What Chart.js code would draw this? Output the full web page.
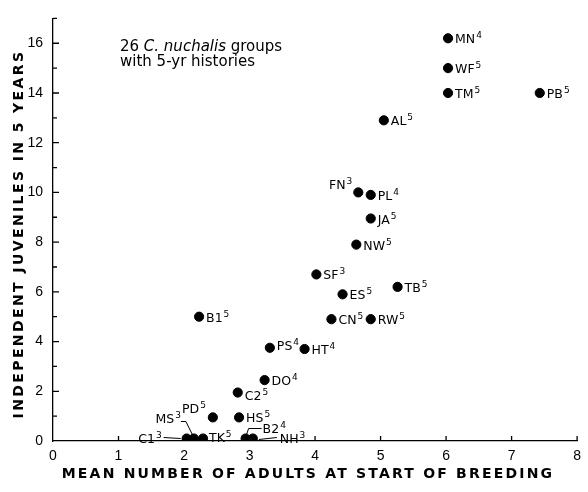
<!DOCTYPE html>
<html lang="en">
<head>
    <meta charset="UTF-8">
    <title>Juveniles vs adults</title>
    <script src="https://cdn.jsdelivr.net/npm/chart.js"></script>
    <style>
        html, body { margin: 0; padding: 0; background: #fff; }
        #wrap { width: 588px; height: 492px; }
    </style>
</head>
<body>
    <div id="wrap"><canvas id="chart"></canvas></div>

    <script>
        // group codes, years of history, mean adults, juveniles produced
        const groups = ['MN', 'WF', 'TM', 'PB', 'AL', 'FN', 'PL', 'JA', 'NW', 'SF', 'ES', 'TB', 'CN',
                        'RW', 'B1', 'PS', 'HT', 'DO', 'C2', 'PD', 'HS', 'C1', 'MS', 'TK', 'B2', 'NH'];
        const years = [4, 5, 5, 5, 5, 3, 4, 5, 5, 3, 5, 5, 5, 5, 5, 4, 4, 4, 5, 5, 5, 3, 3, 5, 4, 3];
        const adults = [6.03, 6.03, 6.03, 7.43, 5.05, 4.66, 4.85, 4.85, 4.63, 4.02, 4.42, 5.26, 4.25,
                        4.85, 2.23, 3.31, 3.84, 3.23, 2.82, 2.44, 2.84, 2.04, 2.15, 2.29, 2.94, 3.05];
        const juveniles = [16.2, 15.0, 14.0, 14.0, 12.9, 10.0, 9.9, 8.95, 7.9, 6.7, 5.9, 6.2, 4.9,
                           4.9, 5.0, 3.75, 3.7, 2.45, 1.95, 0.95, 0.95, 0.1, 0.1, 0.1, 0.1, 0.1];
        const xTicks = [0, 1, 2, 3, 4, 5, 6, 7, 8];
        const yTicks = [0, 2, 4, 6, 8, 10, 12, 14, 16];

        const points = adults.map((a, i) => ({ x: a, y: juveniles[i] }));

        // where each label sits relative to its dot: dx, dy (baseline), align, leader line
        const placement = {
            FN: { dx: -6, dy: -3, align: 'right' },
            PS: { dx: 7, dy: 2 },
            C2: { dx: 7, dy: 7 },
            PD: { dx: -7, dy: -4, align: 'right' },
            C1: { dx: -25, dy: 4, align: 'right', line: [[-23, -1], [-6, 0]] },
            MS: { dx: -13, dy: -16, align: 'right', line: [[-13, -17], [-8, -17], [-1, -3]] },
            TK: { dx: 6, dy: 3 },
            B2: { dx: 17, dy: -6, line: [[1, -4], [3, -10], [16, -10]] },
            NH: { dx: 27, dy: 4, line: [[6, 1], [24, -1]] }
        };

        const sans = '"Liberation Sans", Arial, sans-serif';
        const wide = '"DejaVu Sans", sans-serif';

        const decorations = {
            id: 'decorations',
            afterDraw(chart) {
                const ctx = chart.ctx;
                const xs = chart.scales.x, ys = chart.scales.y;
                const area = chart.chartArea;
                ctx.save();
                ctx.strokeStyle = '#000';
                ctx.lineWidth = 1.3;

                // inward tick marks
                ctx.beginPath();
                for (let v = 1; v <= 8; v++) {
                    const px = xs.getPixelForValue(v);
                    ctx.moveTo(px, area.bottom);
                    ctx.lineTo(px, area.bottom - 5);
                }
                for (let v = 1; v <= 17; v++) {
                    const py = ys.getPixelForValue(v);
                    ctx.moveTo(area.left, py);
                    ctx.lineTo(area.left + (v % 2 === 0 ? 6 : 4), py);
                }
                ctx.stroke();

                // point labels with superscript history length
                const meta = chart.getDatasetMeta(0);
                meta.data.forEach((pt, i) => {
                    const name = groups[i];
                    const sup = String(years[i]);
                    const p = placement[name] || {};
                    const dx = p.dx !== undefined ? p.dx : 7;
                    const dy = p.dy !== undefined ? p.dy : 5;
                    ctx.font = '12.5px ' + wide;
                    const w1 = ctx.measureText(name).width;
                    ctx.font = '9px ' + wide;
                    const w2 = ctx.measureText(sup).width;
                    let x0 = pt.x + dx;
                    if (p.align === 'right') x0 -= (w1 + w2 + 1);
                    const y0 = pt.y + dy;
                    ctx.fillStyle = '#000';
                    ctx.textAlign = 'left';
                    ctx.textBaseline = 'alphabetic';
                    ctx.font = '12.5px ' + wide;
                    ctx.fillText(name, x0, y0);
                    ctx.font = '9px ' + wide;
                    ctx.fillText(sup, x0 + w1 + 1, y0 - 5);
                    if (p.line) {
                        ctx.beginPath();
                        ctx.lineWidth = 1;
                        p.line.forEach((q, k) => {
                            if (k === 0) ctx.moveTo(pt.x + q[0], pt.y + q[1]);
                            else ctx.lineTo(pt.x + q[0], pt.y + q[1]);
                        });
                        ctx.stroke();
                    }
                });

                // note
                ctx.fillStyle = '#000';
                ctx.textAlign = 'left';
                ctx.font = '15px ' + wide;
                ctx.fillText('26 ', 120, 51);
                let nx = 120 + ctx.measureText('26 ').width;
                ctx.font = 'italic 15px ' + wide;
                ctx.fillText('C. nuchalis', nx, 51);
                nx += ctx.measureText('C. nuchalis ').width;
                ctx.font = '15px ' + wide;
                ctx.fillText('groups', nx, 51);
                ctx.fillText('with 5-yr histories', 120, 66);

                // axis titles
                ctx.font = 'bold 14px ' + wide;
                ctx.textAlign = 'center';
                ctx.letterSpacing = '2.2px';
                ctx.fillText('MEAN NUMBER OF ADULTS AT START OF BREEDING', 308, 478);
                ctx.letterSpacing = '2.4px';
                ctx.translate(23, 234);
                ctx.rotate(-Math.PI / 2);
                ctx.fillText('INDEPENDENT JUVENILES IN 5 YEARS', 0, 0);
                ctx.restore();
            }
        };

        new Chart(document.getElementById('chart'), {
            type: 'scatter',
            data: {
                datasets: [{
                    data: points,
                    backgroundColor: '#000',
                    borderColor: '#000',
                    pointRadius: 4.6,
                    pointHoverRadius: 4.6
                }]
            },
            options: {
                responsive: true,
                maintainAspectRatio: false,
                animation: false,
                layout: { padding: { top: 7, right: 10, left: 0, bottom: 0 } },
                plugins: { legend: { display: false }, tooltip: { enabled: false } },
                scales: {
                    x: {
                        type: 'linear',
                        min: 0,
                        max: 8,
                        afterBuildTicks: s => { s.ticks = xTicks.map(v => ({ value: v })); },
                        afterFit: s => { s.height = 51; },
                        grid: { display: false, drawTicks: false },
                        border: { display: true, color: '#000', width: 1.3 },
                        ticks: { color: '#000', padding: 7, font: { family: sans, size: 14 } }
                    },
                    y: {
                        type: 'linear',
                        min: 0,
                        max: 17,
                        afterBuildTicks: s => { s.ticks = yTicks.map(v => ({ value: v })); },
                        afterFit: s => { s.width = 53; },
                        grid: { display: false, drawTicks: false },
                        border: { display: true, color: '#000', width: 1.3 },
                        ticks: { color: '#000', padding: 10, font: { family: sans, size: 14 } }
                    }
                }
            },
            plugins: [decorations]
        });
    </script>
</body>
</html>
